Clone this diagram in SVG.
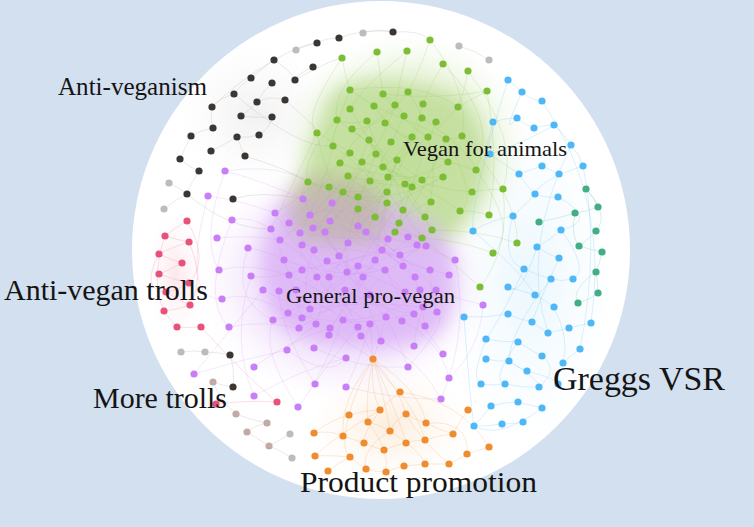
<svg xmlns="http://www.w3.org/2000/svg" width="754" height="527" viewBox="0 0 754 527">
<defs>
<style>
.lbl{font-family:"Liberation Serif","DejaVu Serif",serif;fill:#141414}
.e path{fill:none;stroke-width:.7}
.eg path{stroke:#8cc653;stroke-opacity:.3}
.ep path{stroke:#c98cf0;stroke-opacity:.28}
.ex path{stroke:#ad9f8c;stroke-opacity:.25}
.eb path{stroke:#7ccaf6;stroke-opacity:.4}
.et path{stroke:#86cdb0;stroke-opacity:.45}
.eo path{stroke:#f4b06d;stroke-opacity:.4}
.er path{stroke:#f09ab0;stroke-opacity:.45}
.ek path{stroke:#a8a8a8;stroke-opacity:.35}
.eq path{stroke:#cdbdbb;stroke-opacity:.5}
.bk circle{fill:#3b3631}
.gy circle{fill:#bcbcbc}
.br circle{fill:#c2aba7}
.rd circle{fill:#e8527a}
.pu circle{fill:#c87ef6}
.gr circle{fill:#7cbd34}
.bl circle{fill:#4db8f5}
.tl circle{fill:#41ae84}
.or circle{fill:#f08c2e}
</style>
<filter id="blur" x="-30%" y="-30%" width="160%" height="160%"><feGaussianBlur stdDeviation="9"/></filter>
<radialGradient id="hg"><stop offset="0" stop-color="#a9d170" stop-opacity=".45"/><stop offset=".7" stop-color="#c2df9c" stop-opacity=".3"/><stop offset="1" stop-color="#d8ebc2" stop-opacity="0"/></radialGradient>
<radialGradient id="hp"><stop offset="0" stop-color="#d3a4f4" stop-opacity=".5"/><stop offset=".7" stop-color="#e0c0f6" stop-opacity=".3"/><stop offset="1" stop-color="#eedcf9" stop-opacity="0"/></radialGradient>
<radialGradient id="hb"><stop offset="0" stop-color="#c4e7fa" stop-opacity=".35"/><stop offset="1" stop-color="#d9f0fc" stop-opacity="0"/></radialGradient>
<radialGradient id="ho"><stop offset="0" stop-color="#f7cb9d" stop-opacity=".35"/><stop offset="1" stop-color="#fbe4cc" stop-opacity="0"/></radialGradient>
<radialGradient id="hk"><stop offset="0" stop-color="#d0d0d0" stop-opacity=".3"/><stop offset="1" stop-color="#e6e6e6" stop-opacity="0"/></radialGradient>
<radialGradient id="hr"><stop offset="0" stop-color="#f6bccb" stop-opacity=".35"/><stop offset="1" stop-color="#fbe0e7" stop-opacity="0"/></radialGradient>
</defs>
<rect width="754" height="527" fill="#d3e0f0"/>
<circle cx="381" cy="250" r="249" fill="#ffffff"/>
<g id="haze">
<ellipse cx="255" cy="115" rx="80" ry="70" fill="url(#hk)"/>
<ellipse cx="176" cy="275" rx="30" ry="65" fill="url(#hr)"/>
<ellipse cx="530" cy="280" rx="85" ry="160" fill="url(#hb)"/>
<ellipse cx="390" cy="425" rx="80" ry="60" fill="url(#ho)"/>
<ellipse cx="345" cy="280" rx="145" ry="120" fill="url(#hp)"/>
<ellipse cx="405" cy="150" rx="125" ry="115" fill="url(#hg)"/>
<g filter="url(#blur)">
<path d="M342,86 Q400,72 462,98 Q492,130 486,176 Q480,216 440,246 L395,242 Q340,228 300,192 Q304,150 320,124 Q326,94 342,86 Z" fill="#b9d98f" fill-opacity=".75"/>
<path d="M277,204 Q320,186 380,200 Q432,214 452,252 Q462,300 440,332 Q400,352 360,347 Q300,347 275,322 Q254,280 264,240 Z" fill="#d9b0f5" fill-opacity=".8"/>
<path d="M292,182 Q330,168 372,185 Q392,210 378,240 Q340,250 300,240 Q282,210 292,182 Z" fill="#bdb5a2" fill-opacity=".7"/>
</g>
</g>
<g id="connectors" class="e">
<g class="ek">
<path d="M393,32 Q365,28 339,38 M339,38 Q325,38 317,43 M317,43 Q300,45 274,60 M274,60 Q290,70 295,80 M274,60 Q260,70 251,78 M251,78 Q240,85 234,94 M234,94 Q220,98 212,107 M212,107 Q210,120 213,128 M213,128 Q200,130 191,136 M191,136 Q185,148 180,159 M180,159 Q190,168 199,171 M199,171 Q190,185 187,194 M257,102 Q270,95 285,100 M257,102 Q250,110 241,116 M241,116 Q255,118 272,117 M272,117 Q270,128 259,135 M259,135 Q248,138 237,137 M237,137 Q224,145 211,151 M245,156 Q240,145 237,137 M272,83 Q262,92 257,102 M313,67 Q300,72 295,80 M363,33 Q378,28 393,32 M296,50 Q305,45 317,43 M233,199 Q260,190 303,199 M245,156 Q290,170 308,182 M187,194 Q230,230 271,229 M285,100 Q320,130 317,133 M234,94 Q300,150 333,146 M212,107 Q240,80 274,60 M295,80 Q330,60 342,58 M169,183 Q180,188 187,194 M164,209 Q175,200 187,194 M459,46 Q475,50 489,60 M393,32 Q420,30 430,40"/>
</g>
<g class="eg">
<path d="M430,40 Q420,70 408,92 M377,52 Q380,75 383,94 M407,51 Q400,80 395,105 M342,58 Q345,75 350,90 M443,64 Q430,85 423,104 M468,71 Q465,90 458,107 M487,91 Q470,100 458,107 M350,90 Q365,100 374,106 M383,94 Q395,100 404,116 M408,92 Q415,100 422,118 M337,120 Q350,125 367,121 M317,133 Q330,140 350,153 M462,136 Q450,140 446,139 M476,170 Q460,165 448,162 M503,189 Q480,190 472,192 M489,215 Q470,210 460,211 M517,243 Q480,230 432,230 M493,253 Q460,240 422,238 M480,287 Q450,260 422,238 M308,182 Q320,185 329,187 M350,109 Q370,140 376,154 M374,106 Q400,140 412,137 M395,105 Q380,150 362,162 M423,104 Q410,150 383,167 M458,107 Q430,140 397,160 M337,120 Q380,150 422,180 M367,121 Q380,160 405,184 M385,123 Q420,150 448,162 M404,116 Q380,170 358,197 M422,118 Q400,170 387,192 M436,122 Q420,160 412,187 M352,129 Q400,170 431,202 M369,140 Q400,180 403,210 M391,142 Q360,170 343,192 M412,137 Q380,190 375,217 M428,137 Q440,180 425,217 M446,139 Q420,200 395,232 M333,146 Q370,170 387,203 M350,153 Q390,190 422,238 M376,154 Q410,200 432,230 M397,160 Q380,200 358,209 M340,163 Q380,180 443,177 M362,162 Q400,170 460,211 M383,167 Q430,190 472,192 M448,162 Q400,190 348,176 M348,176 Q380,200 399,223 M370,181 Q400,190 422,180 M388,177 Q370,200 329,187 M405,184 Q420,210 432,230 M443,177 Q400,200 375,217 M308,182 Q350,200 387,203 M343,192 Q380,220 422,238 M358,197 Q400,200 443,177 M387,192 Q370,210 358,209 M412,187 Q400,220 395,232 M431,202 Q410,210 399,223 M350,90 Q330,140 333,146 M383,94 Q400,120 428,137 M408,92 Q380,130 352,129 M430,40 Q470,90 462,136 M377,52 Q330,90 337,120 M443,64 Q500,120 476,170 M468,71 Q520,140 503,189 M342,58 Q300,120 317,133 M407,51 Q360,90 350,109 M487,91 Q500,160 489,215 M462,136 Q520,200 517,243 M476,170 Q520,230 493,253 M503,189 Q510,250 480,287 M350,90 Q420,80 458,107 M383,94 Q440,100 487,91 M317,133 Q330,200 358,209 M337,120 Q300,160 308,182 M446,139 Q480,200 460,211 M422,118 Q470,150 476,170 M374,106 Q430,130 446,139 M395,105 Q350,140 340,163"/>
</g>
<g class="ex">
<path d="M308,182 Q300,190 303,199 M329,187 Q330,200 332,203 M343,192 Q330,210 310,215 M358,197 Q345,210 330,221 M358,209 Q360,220 358,226 M375,217 Q370,225 366,232 M387,203 Q380,230 388,239 M395,232 Q410,240 425,245 M422,238 Q410,235 408,237 M403,210 Q400,230 382,250 M340,163 Q320,190 289,223 M350,153 Q300,200 275,213 M317,133 Q290,190 271,229 M369,140 Q340,210 313,228 M333,146 Q320,200 300,233 M362,162 Q340,220 325,232 M376,154 Q350,220 348,243 M397,160 Q380,220 375,260 M412,187 Q380,230 358,266 M348,176 Q310,220 280,240 M343,192 Q320,230 302,245 M387,192 Q350,240 339,256"/>
</g>
<g class="ep">
<path d="M225,171 Q260,180 303,199 M208,196 Q240,200 275,213 M232,220 Q250,215 271,229 M217,238 Q250,235 280,240 M248,248 Q265,250 284,260 M219,270 Q250,262 289,275 M251,276 Q270,280 302,270 M222,299 Q250,290 288,313 M229,327 Q260,320 299,328 M263,290 Q280,300 310,309 M273,320 Q290,315 302,318 M287,350 Q300,335 316,324 M314,348 Q320,340 329,335 M254,367 Q290,340 330,328 M194,374 Q240,360 287,350 M254,396 Q300,370 346,358 M298,407 Q320,380 343,320 M315,384 Q330,360 358,327 M346,387 Q360,360 370,324 M408,367 Q400,345 386,317 M443,354 Q430,335 414,314 M449,378 Q440,340 402,321 M441,399 Q420,360 381,341 M414,346 Q415,330 423,307 M425,326 Q420,300 415,277 M437,312 Q430,290 430,270 M455,260 Q440,255 425,245 M449,275 Q440,272 430,270 M483,305 Q460,300 436,290 M426,246 Q415,250 400,255 M303,199 Q320,230 339,256 M332,203 Q350,240 347,272 M275,213 Q300,250 317,277 M310,215 Q330,250 363,277 M330,221 Q370,240 403,266 M289,223 Q320,260 329,277 M271,229 Q290,270 302,318 M313,228 Q350,270 385,270 M358,226 Q380,250 415,277 M348,243 Q330,280 316,324 M300,233 Q340,240 388,239 M280,240 Q330,270 358,327 M325,232 Q360,290 402,321 M366,232 Q390,260 430,270 M388,239 Q360,290 330,328 M425,245 Q380,270 343,320 M382,250 Q350,300 299,328 M375,260 Q400,290 423,307 M358,266 Q330,290 288,313 M339,256 Q370,300 386,317 M327,261 Q360,290 414,314 M314,250 Q300,280 310,309 M302,245 Q350,250 400,255 M284,260 Q340,280 385,270 M289,275 Q340,300 370,324 M302,270 Q350,260 417,245 M317,277 Q350,320 361,336 M329,277 Q370,280 408,237 M347,272 Q370,300 381,341 M363,277 Q340,310 329,335 M385,270 Q400,300 414,314 M403,266 Q370,240 332,203 M415,277 Q380,230 358,226 M430,270 Q380,250 313,228 M400,255 Q350,220 303,199 M417,245 Q360,230 289,223 M408,237 Q350,200 310,215 M288,313 Q350,330 414,314 M302,318 Q340,280 375,260 M310,309 Q360,300 423,307 M296,290 Q340,260 382,250 M279,291 Q320,300 358,327 M345,290 Q380,310 414,314 M370,295 Q330,310 302,318 M405,292 Q360,270 327,261 M420,290 Q390,320 343,320 M436,290 Q400,250 366,232 M225,171 Q200,240 219,270 M208,196 Q180,300 222,299 M232,220 Q200,300 229,327 M194,374 Q230,330 263,290 M254,396 Q230,340 251,276 M298,407 Q260,350 273,320 M315,384 Q280,330 279,291 M441,399 Q470,330 455,260 M483,305 Q480,350 449,378 M408,367 Q450,320 437,312 M346,387 Q400,400 441,399 M287,350 Q330,380 346,358 M225,171 Q300,160 332,203 M248,248 Q230,300 273,320 M314,348 Q360,370 408,367 M343,320 Q370,340 373,359 M370,324 Q372,340 373,359 M330,328 Q350,345 373,359 M386,317 Q380,340 373,359"/>
</g>
<g class="eb">
<path d="M508,80 Q515,85 522,92 M522,92 Q530,100 542,101 M493,122 Q505,118 517,118 M517,118 Q525,125 534,128 M534,128 Q545,125 554,125 M554,125 Q565,135 571,145 M571,145 Q580,155 583,166 M542,166 Q530,170 519,174 M559,174 Q550,170 542,166 M490,154 Q505,165 519,174 M519,174 Q525,185 535,194 M535,194 Q545,198 558,197 M513,216 Q525,205 535,194 M473,231 Q490,220 513,216 M561,230 Q550,240 537,247 M537,247 Q548,255 559,258 M524,269 Q537,275 551,279 M551,279 Q562,282 573,279 M508,287 Q520,290 535,295 M535,295 Q545,300 554,307 M508,314 Q520,320 532,322 M464,317 Q485,318 508,314 M532,322 Q540,328 548,333 M548,333 Q560,330 569,328 M569,328 Q580,325 591,323 M580,349 Q570,356 563,363 M486,339 Q500,342 518,342 M518,342 Q530,350 542,356 M486,359 Q498,362 509,361 M509,361 Q518,368 527,371 M481,384 Q492,386 505,384 M505,384 Q522,388 539,387 M491,406 Q505,402 518,402 M518,402 Q530,405 542,408 M474,426 Q488,426 502,424 M502,424 Q512,424 523,422 M493,122 Q480,170 490,154 M513,216 Q500,260 524,269 M486,339 Q470,380 481,384 M542,356 Q560,370 539,387 M537,247 Q520,300 508,287 M561,230 Q590,270 573,279 M491,406 Q480,420 474,426 M508,80 Q470,200 473,231 M583,166 Q600,250 580,349 M542,101 Q610,200 591,323 M464,317 Q470,400 474,426 M571,145 Q520,250 548,333 M524,269 Q500,320 486,339 M554,307 Q570,340 563,363 M559,258 Q540,300 532,322 M527,371 Q560,380 558,384 M542,408 Q500,440 474,426 M518,342 Q490,380 505,384 M509,361 Q540,380 539,387 M551,279 Q510,330 509,361 M473,231 Q520,270 535,295 M490,154 Q530,140 554,125 M522,92 Q500,140 517,118 M558,197 Q600,220 561,230 M583,166 Q540,180 535,194"/>
</g>
<g class="et">
<path d="M586,189 Q595,198 598,207 M598,207 Q585,212 575,213 M575,213 Q560,218 539,222 M596,231 Q588,240 579,246 M579,246 Q592,250 602,252 M602,252 Q600,262 596,272 M596,272 Q598,283 598,293 M598,293 Q590,300 578,303 M586,189 Q610,215 596,231 M575,213 Q570,235 579,246 M596,272 Q570,290 578,303"/>
</g>
<g class="eo">
<path d="M373,359 Q385,380 400,392 M373,359 Q370,390 380,410 M373,359 Q355,390 349,415 M373,359 Q400,390 406,414 M373,359 Q365,395 368,422 M373,359 Q420,390 426,423 M373,359 Q385,400 390,431 M373,359 Q340,400 343,436 M373,359 Q400,420 406,443 M400,392 Q390,400 380,410 M380,410 Q365,410 349,415 M406,414 Q395,420 390,431 M368,422 Q380,425 390,431 M426,423 Q415,420 406,414 M314,433 Q330,430 343,436 M343,436 Q355,440 364,443 M364,443 Q375,448 384,450 M384,450 Q395,445 406,443 M406,443 Q415,440 425,440 M425,440 Q440,435 453,434 M315,456 Q330,455 350,457 M350,457 Q360,465 366,469 M366,469 Q375,472 386,472 M386,472 Q395,468 404,466 M404,466 Q415,465 425,464 M425,464 Q438,464 449,464 M449,464 Q460,458 467,454 M467,454 Q480,450 489,447 M328,471 Q340,462 350,457 M468,410 Q460,420 453,434 M349,415 Q330,420 314,433 M426,423 Q440,430 453,434 M380,410 Q360,440 364,443 M400,392 Q420,420 425,440 M349,415 Q340,450 350,457 M368,422 Q390,450 386,472 M390,431 Q420,450 425,464 M406,414 Q420,440 449,464 M380,410 Q330,440 315,456 M390,431 Q360,450 366,469 M426,423 Q470,420 467,454 M400,392 Q460,400 489,447"/>
</g>
<g class="er">
<path d="M187,221 Q175,228 165,236 M165,236 Q178,240 189,242 M189,242 Q170,248 159,254 M159,254 Q172,260 182,263 M182,263 Q170,270 159,274 M159,274 Q175,280 189,283 M189,283 Q178,290 166,292 M166,292 Q178,300 190,305 M190,305 Q175,310 164,311 M164,311 Q170,320 177,327 M177,327 Q190,328 201,327 M187,221 Q210,260 189,283 M165,236 Q150,280 164,311 M201,327 Q250,380 277,402 M216,404 Q250,400 277,402 M189,242 Q205,280 190,305 M159,254 Q140,290 166,292"/>
</g>
<g class="eq">
<path d="M213,382 Q220,400 236,414 M236,414 Q250,420 267,423 M247,432 Q255,425 267,423 M269,446 Q260,440 247,432 M181,352 Q193,350 205,352 M205,352 Q218,352 230,355 M290,434 Q280,440 269,446 M292,458 Q280,450 269,446 M230,355 Q235,370 233,387 M233,387 Q220,385 213,382"/>
</g>
</g>
<g id="anti-veganism" class="bk">
<circle cx="393" cy="32" r="3.6"/><circle cx="339" cy="38" r="3.6"/><circle cx="317" cy="43" r="3.6"/><circle cx="313" cy="67" r="3.6"/><circle cx="274" cy="60" r="3.6"/><circle cx="295" cy="80" r="3.6"/><circle cx="272" cy="83" r="3.6"/><circle cx="251" cy="78" r="3.6"/><circle cx="234" cy="94" r="3.6"/><circle cx="257" cy="102" r="3.6"/><circle cx="285" cy="100" r="3.6"/><circle cx="212" cy="107" r="3.6"/><circle cx="241" cy="116" r="3.6"/><circle cx="272" cy="117" r="3.6"/><circle cx="213" cy="128" r="3.6"/><circle cx="237" cy="137" r="3.6"/><circle cx="259" cy="135" r="3.6"/><circle cx="191" cy="136" r="3.6"/><circle cx="211" cy="151" r="3.6"/><circle cx="245" cy="156" r="3.6"/><circle cx="180" cy="159" r="3.6"/><circle cx="199" cy="171" r="3.6"/><circle cx="187" cy="194" r="3.6"/><circle cx="233" cy="199" r="3.6"/><circle cx="230" cy="355" r="3.6"/><circle cx="233" cy="387" r="3.6"/>
</g>
<g id="grey-nodes" class="gy">
<circle cx="363" cy="33" r="3.6"/><circle cx="296" cy="50" r="3.6"/><circle cx="459" cy="46" r="3.6"/><circle cx="489" cy="60" r="3.6"/><circle cx="169" cy="183" r="3.6"/><circle cx="164" cy="209" r="3.6"/><circle cx="181" cy="352" r="3.6"/><circle cx="205" cy="352" r="3.6"/><circle cx="290" cy="434" r="3.6"/><circle cx="292" cy="458" r="3.6"/>
</g>
<g id="more-trolls" class="br">
<circle cx="213" cy="382" r="3.6"/><circle cx="236" cy="414" r="3.6"/><circle cx="267" cy="423" r="3.6"/><circle cx="247" cy="432" r="3.6"/><circle cx="269" cy="446" r="3.6"/>
</g>
<g id="anti-vegan-trolls" class="rd">
<circle cx="187" cy="221" r="3.6"/><circle cx="165" cy="236" r="3.6"/><circle cx="189" cy="242" r="3.6"/><circle cx="159" cy="254" r="3.6"/><circle cx="182" cy="263" r="3.6"/><circle cx="159" cy="274" r="3.6"/><circle cx="189" cy="283" r="3.6"/><circle cx="166" cy="292" r="3.6"/><circle cx="190" cy="305" r="3.6"/><circle cx="164" cy="311" r="3.6"/><circle cx="177" cy="327" r="3.6"/><circle cx="201" cy="327" r="3.6"/><circle cx="277" cy="402" r="3.6"/><circle cx="216" cy="404" r="3.6"/>
</g>
<g id="general-pro-vegan" class="pu">
<circle cx="225" cy="171" r="3.6"/><circle cx="208" cy="196" r="3.6"/><circle cx="232" cy="220" r="3.6"/><circle cx="217" cy="238" r="3.6"/><circle cx="248" cy="248" r="3.6"/><circle cx="219" cy="270" r="3.6"/><circle cx="251" cy="276" r="3.6"/><circle cx="222" cy="299" r="3.6"/><circle cx="229" cy="327" r="3.6"/><circle cx="263" cy="290" r="3.6"/><circle cx="273" cy="320" r="3.6"/><circle cx="287" cy="350" r="3.6"/><circle cx="314" cy="348" r="3.6"/><circle cx="254" cy="367" r="3.6"/><circle cx="194" cy="374" r="3.6"/><circle cx="254" cy="396" r="3.6"/><circle cx="298" cy="407" r="3.6"/><circle cx="315" cy="384" r="3.6"/><circle cx="346" cy="387" r="3.6"/><circle cx="346" cy="358" r="3.6"/><circle cx="408" cy="367" r="3.6"/><circle cx="443" cy="354" r="3.6"/><circle cx="449" cy="378" r="3.6"/><circle cx="441" cy="399" r="3.6"/><circle cx="414" cy="346" r="3.6"/><circle cx="425" cy="326" r="3.6"/><circle cx="437" cy="312" r="3.6"/><circle cx="455" cy="260" r="3.6"/><circle cx="449" cy="275" r="3.6"/><circle cx="426" cy="246" r="3.6"/><circle cx="483" cy="305" r="3.6"/><circle cx="361" cy="336" r="3.6"/><circle cx="381" cy="341" r="3.6"/>
<circle cx="303" cy="199" r="3.6"/><circle cx="332" cy="203" r="3.6"/><circle cx="275" cy="213" r="3.6"/><circle cx="310" cy="215" r="3.6"/><circle cx="330" cy="221" r="3.6"/><circle cx="289" cy="223" r="3.6"/><circle cx="271" cy="229" r="3.6"/><circle cx="313" cy="228" r="3.6"/><circle cx="358" cy="226" r="3.6"/><circle cx="348" cy="243" r="3.6"/><circle cx="300" cy="233" r="3.6"/><circle cx="280" cy="240" r="3.6"/><circle cx="325" cy="232" r="3.6"/><circle cx="366" cy="232" r="3.6"/><circle cx="388" cy="239" r="3.6"/><circle cx="382" cy="250" r="3.6"/><circle cx="375" cy="260" r="3.6"/><circle cx="358" cy="266" r="3.6"/><circle cx="339" cy="256" r="3.6"/><circle cx="327" cy="261" r="3.6"/><circle cx="314" cy="250" r="3.6"/><circle cx="302" cy="245" r="3.6"/><circle cx="284" cy="260" r="3.6"/><circle cx="289" cy="275" r="3.6"/><circle cx="302" cy="270" r="3.6"/><circle cx="317" cy="277" r="3.6"/><circle cx="329" cy="277" r="3.6"/><circle cx="347" cy="272" r="3.6"/><circle cx="363" cy="277" r="3.6"/><circle cx="385" cy="270" r="3.6"/><circle cx="403" cy="266" r="3.6"/><circle cx="415" cy="277" r="3.6"/><circle cx="430" cy="270" r="3.6"/><circle cx="400" cy="255" r="3.6"/><circle cx="417" cy="245" r="3.6"/><circle cx="408" cy="237" r="3.6"/><circle cx="288" cy="313" r="3.6"/><circle cx="302" cy="318" r="3.6"/><circle cx="310" cy="309" r="3.6"/><circle cx="316" cy="324" r="3.6"/><circle cx="330" cy="328" r="3.6"/><circle cx="343" cy="320" r="3.6"/><circle cx="358" cy="327" r="3.6"/><circle cx="370" cy="324" r="3.6"/><circle cx="386" cy="317" r="3.6"/><circle cx="402" cy="321" r="3.6"/><circle cx="414" cy="314" r="3.6"/><circle cx="423" cy="307" r="3.6"/><circle cx="299" cy="328" r="3.6"/><circle cx="329" cy="335" r="3.6"/><circle cx="279" cy="291" r="3.6"/><circle cx="296" cy="290" r="3.6"/><circle cx="436" cy="290" r="3.6"/><circle cx="345" cy="290" r="3.6"/><circle cx="370" cy="295" r="3.6"/><circle cx="405" cy="292" r="3.6"/><circle cx="420" cy="290" r="3.6"/>
</g>
<g id="vegan-for-animals" class="gr">
<circle cx="430" cy="40" r="3.6"/><circle cx="377" cy="52" r="3.6"/><circle cx="407" cy="51" r="3.6"/><circle cx="342" cy="58" r="3.6"/><circle cx="443" cy="64" r="3.6"/><circle cx="468" cy="71" r="3.6"/><circle cx="487" cy="91" r="3.6"/><circle cx="350" cy="90" r="3.6"/><circle cx="383" cy="94" r="3.6"/><circle cx="408" cy="92" r="3.6"/><circle cx="458" cy="107" r="3.6"/><circle cx="423" cy="104" r="3.6"/><circle cx="395" cy="105" r="3.6"/><circle cx="374" cy="106" r="3.6"/><circle cx="350" cy="109" r="3.6"/><circle cx="337" cy="120" r="3.6"/><circle cx="367" cy="121" r="3.6"/><circle cx="385" cy="123" r="3.6"/><circle cx="404" cy="116" r="3.6"/><circle cx="422" cy="118" r="3.6"/><circle cx="436" cy="122" r="3.6"/><circle cx="462" cy="136" r="3.6"/><circle cx="317" cy="133" r="3.6"/><circle cx="352" cy="129" r="3.6"/><circle cx="369" cy="140" r="3.6"/><circle cx="391" cy="142" r="3.6"/><circle cx="412" cy="137" r="3.6"/><circle cx="428" cy="137" r="3.6"/><circle cx="446" cy="139" r="3.6"/><circle cx="333" cy="146" r="3.6"/><circle cx="350" cy="153" r="3.6"/><circle cx="376" cy="154" r="3.6"/><circle cx="397" cy="160" r="3.6"/><circle cx="340" cy="163" r="3.6"/><circle cx="362" cy="162" r="3.6"/><circle cx="383" cy="167" r="3.6"/><circle cx="448" cy="162" r="3.6"/><circle cx="476" cy="170" r="3.6"/><circle cx="348" cy="176" r="3.6"/><circle cx="370" cy="181" r="3.6"/><circle cx="388" cy="177" r="3.6"/><circle cx="405" cy="184" r="3.6"/><circle cx="422" cy="180" r="3.6"/><circle cx="443" cy="177" r="3.6"/><circle cx="308" cy="182" r="3.6"/><circle cx="329" cy="187" r="3.6"/><circle cx="343" cy="192" r="3.6"/><circle cx="358" cy="197" r="3.6"/><circle cx="387" cy="192" r="3.6"/><circle cx="412" cy="187" r="3.6"/><circle cx="472" cy="192" r="3.6"/><circle cx="503" cy="189" r="3.6"/><circle cx="431" cy="202" r="3.6"/><circle cx="460" cy="211" r="3.6"/><circle cx="489" cy="215" r="3.6"/><circle cx="358" cy="209" r="3.6"/><circle cx="375" cy="217" r="3.6"/><circle cx="387" cy="203" r="3.6"/><circle cx="403" cy="210" r="3.6"/><circle cx="425" cy="217" r="3.6"/><circle cx="395" cy="232" r="3.6"/><circle cx="422" cy="238" r="3.6"/><circle cx="432" cy="230" r="3.6"/><circle cx="399" cy="223" r="3.6"/><circle cx="517" cy="243" r="3.6"/><circle cx="493" cy="253" r="3.6"/><circle cx="480" cy="287" r="3.6"/>
</g>
<g id="greggs-vsr" class="bl">
<circle cx="508" cy="80" r="3.6"/><circle cx="522" cy="92" r="3.6"/><circle cx="542" cy="101" r="3.6"/><circle cx="493" cy="122" r="3.6"/><circle cx="517" cy="118" r="3.6"/><circle cx="534" cy="128" r="3.6"/><circle cx="554" cy="125" r="3.6"/><circle cx="571" cy="145" r="3.6"/><circle cx="583" cy="166" r="3.6"/><circle cx="542" cy="166" r="3.6"/><circle cx="519" cy="174" r="3.6"/><circle cx="559" cy="174" r="3.6"/><circle cx="490" cy="154" r="3.6"/><circle cx="535" cy="194" r="3.6"/><circle cx="558" cy="197" r="3.6"/><circle cx="513" cy="216" r="3.6"/><circle cx="473" cy="231" r="3.6"/><circle cx="561" cy="230" r="3.6"/><circle cx="537" cy="247" r="3.6"/><circle cx="559" cy="258" r="3.6"/><circle cx="524" cy="269" r="3.6"/><circle cx="551" cy="279" r="3.6"/><circle cx="573" cy="279" r="3.6"/><circle cx="508" cy="287" r="3.6"/><circle cx="535" cy="295" r="3.6"/><circle cx="554" cy="307" r="3.6"/><circle cx="508" cy="314" r="3.6"/><circle cx="464" cy="317" r="3.6"/><circle cx="532" cy="322" r="3.6"/><circle cx="548" cy="333" r="3.6"/><circle cx="569" cy="328" r="3.6"/><circle cx="591" cy="323" r="3.6"/><circle cx="580" cy="349" r="3.6"/><circle cx="563" cy="363" r="3.6"/><circle cx="486" cy="339" r="3.6"/><circle cx="518" cy="342" r="3.6"/><circle cx="542" cy="356" r="3.6"/><circle cx="486" cy="359" r="3.6"/><circle cx="509" cy="361" r="3.6"/><circle cx="527" cy="371" r="3.6"/><circle cx="481" cy="384" r="3.6"/><circle cx="505" cy="384" r="3.6"/><circle cx="539" cy="387" r="3.6"/><circle cx="558" cy="384" r="3.6"/><circle cx="491" cy="406" r="3.6"/><circle cx="518" cy="402" r="3.6"/><circle cx="542" cy="408" r="3.6"/><circle cx="474" cy="426" r="3.6"/><circle cx="502" cy="424" r="3.6"/><circle cx="523" cy="422" r="3.6"/>
</g>
<g id="teal-nodes" class="tl">
<circle cx="586" cy="189" r="3.6"/><circle cx="598" cy="207" r="3.6"/><circle cx="575" cy="213" r="3.6"/><circle cx="539" cy="222" r="3.6"/><circle cx="596" cy="231" r="3.6"/><circle cx="579" cy="246" r="3.6"/><circle cx="602" cy="252" r="3.6"/><circle cx="596" cy="272" r="3.6"/><circle cx="598" cy="293" r="3.6"/><circle cx="578" cy="303" r="3.6"/>
</g>
<g id="product-promotion" class="or">
<circle cx="373" cy="359" r="3.6"/><circle cx="400" cy="392" r="3.6"/><circle cx="380" cy="410" r="3.6"/><circle cx="349" cy="415" r="3.6"/><circle cx="406" cy="414" r="3.6"/><circle cx="368" cy="422" r="3.6"/><circle cx="426" cy="423" r="3.6"/><circle cx="390" cy="431" r="3.6"/><circle cx="314" cy="433" r="3.6"/><circle cx="343" cy="436" r="3.6"/><circle cx="364" cy="443" r="3.6"/><circle cx="406" cy="443" r="3.6"/><circle cx="425" cy="440" r="3.6"/><circle cx="453" cy="434" r="3.6"/><circle cx="384" cy="450" r="3.6"/><circle cx="315" cy="456" r="3.6"/><circle cx="350" cy="457" r="3.6"/><circle cx="489" cy="447" r="3.6"/><circle cx="467" cy="454" r="3.6"/><circle cx="468" cy="410" r="3.6"/><circle cx="366" cy="469" r="3.6"/><circle cx="386" cy="472" r="3.6"/><circle cx="404" cy="466" r="3.6"/><circle cx="425" cy="464" r="3.6"/><circle cx="449" cy="464" r="3.6"/><circle cx="328" cy="471" r="3.6"/>
</g>
<g id="labels" class="lbl">
<text x="58" y="95" font-size="25" textLength="149" lengthAdjust="spacingAndGlyphs">Anti-veganism</text>
<text x="403" y="156" font-size="21" textLength="164" lengthAdjust="spacingAndGlyphs">Vegan for animals</text>
<text x="286" y="303" font-size="20.5" textLength="169" lengthAdjust="spacingAndGlyphs">General pro-vegan</text>
<text x="4" y="300" font-size="30" textLength="204" lengthAdjust="spacingAndGlyphs">Anti-vegan trolls</text>
<text x="93" y="408" font-size="29" textLength="134" lengthAdjust="spacingAndGlyphs">More trolls</text>
<text x="553" y="390" font-size="33" textLength="172" lengthAdjust="spacingAndGlyphs">Greggs VSR</text>
<text x="300" y="492" font-size="30" textLength="237" lengthAdjust="spacingAndGlyphs">Product promotion</text>
</g>
</svg>
